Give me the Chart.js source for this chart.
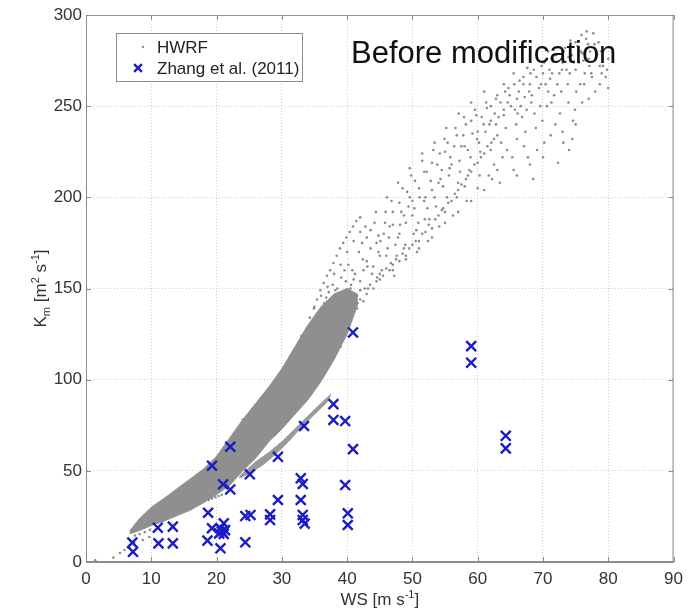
<!DOCTYPE html>
<html>
<head>
<meta charset="utf-8">
<script src="https://cdn.jsdelivr.net/npm/chart.js@4/dist/chart.umd.min.js"></script>
<style>
html, body { margin: 0; padding: 0; background: #fff; }
</style>
</head>
<body>
<canvas id="myChart" width="690" height="612"></canvas>
<script>
// axis limits / tick steps
const wsRange = [0, 90];
const kmRange = [0, 300];
const wsStep = 10;
const kmStep = 50;

// Zhang et al. (2011) observations
const zhangWs = [7.1, 7.2, 11.0, 11.1, 13.3, 13.3, 18.7, 18.6, 19.3, 19.3, 20.6, 20.6, 21.1, 20.4, 21.1, 20.8, 21.3,
  21.0, 22.1, 22.1, 24.4, 25.2, 24.4, 25.1, 28.2, 28.2, 29.4, 29.4, 32.9, 33.2, 32.9, 33.2, 33.2, 33.5, 33.4,
  37.9, 37.9, 39.7, 39.7, 40.1, 40.1, 40.9, 40.9, 59.0, 59.0, 64.3, 64.3];
const zhangKm = [10.6, 5.6, 18.8, 10.2, 19.4, 10.2, 27.0, 11.7, 52.8, 18.5, 7.5, 18.5, 21.2, 15.7, 15.4, 16.8, 17.5,
  42.6, 39.8, 63.2, 25.2, 25.8, 10.8, 48.1, 26.1, 23.0, 57.7, 34.0, 45.9, 42.8, 34.0, 25.8, 23.0, 21.0, 74.6,
  86.6, 77.9, 77.3, 42.2, 26.7, 20.3, 61.9, 125.9, 118.4, 109.3, 69.2, 62.3];

// HWRF: outline of the dense part of the cloud (ws, km)
const hwrfCore = [[6.7, 17], [8, 23], [10, 30], [12, 35], [15, 43], [18, 51], [20, 58], [22, 68], [24, 78], [26, 87],
  [28, 96], [30, 106], [32, 118], [34, 130], [36, 140], [38, 147], [40, 150], [41.5, 147],
  [41.5, 140], [40, 125], [38, 111], [36, 99], [34, 89], [32, 81], [30, 73], [28, 66], [26, 57], [24, 50], [22, 42],
  [20, 37], [18, 32.5], [16, 28.5], [14, 25.5], [12, 22.5], [10, 20], [8, 17], [6.7, 15.5]];
// thin strand under the core
const hwrfRibbon = [[23.5, 47], [26, 55], [28, 60], [30, 66], [32, 73], [34, 80], [36, 87], [37.5, 92],
  [37, 88], [35, 81], [33, 74], [31, 66], [29, 59], [27, 53], [25, 48.5], [23.5, 46]];

// HWRF: scattered points
const hwrfDots = [
  [1.4, 1], [4.2, 2.4], [5.2, 4.9], [5.9, 6.6], [6.4, 8], [7.4, 10.4], [8.7, 12], [9.7, 13.7],
  [7.5, 14.5], [8.2, 15.3], [9, 16.4], [9.8, 17.6], [18.8, 34], [19.3, 34.8], [19.8, 35.5], [20.3, 36.2], [20.8, 36.9],
  [25, 80], [27, 90], [29, 99], [31, 109], [33, 121], [35, 133], [37, 143],
  [29, 70], [31, 78], [33, 87], [35, 97], [37, 107], [39, 118],
  [28, 95], [30.5, 105], [31.5, 110], [34.5, 129], [35.5, 134], [33.5, 115], [36.5, 130], [38, 135], [39.5, 140], [26, 82],
  [24, 78], [25.5, 84], [27.5, 92], [29.5, 100], [30.2, 106], [32.5, 118], [33, 124],
  [36.5, 142], [37.2, 148], [37.8, 152], [38.5, 150], [39.1, 156], [39.6, 160], [40.2, 163], [38.9, 144], [40.6, 152],
  [41.2, 158], [41.8, 170], [42.3, 175], [41.5, 146], [42.7, 150], [43.1, 162], [43.6, 182], [44.2, 186], [44.8, 170],
  [45.3, 160], [45.9, 192], [46.4, 178], [46.8, 198], [47.2, 157], [47.6, 168], [48.1, 185], [48.5, 205], [48.9, 174],
  [49.4, 195], [49.8, 212], [50.2, 180], [50.7, 170], [51.1, 200], [51.5, 220], [51.9, 188], [52.4, 176], [52.8, 209],
  [53.2, 226], [53.6, 195], [54.1, 184], [54.5, 215], [54.9, 232], [55.3, 200], [55.8, 222], [56.2, 190], [56.6, 238],
  [57.0, 208], [57.5, 228], [57.9, 244], [58.3, 198], [58.7, 215], [59.2, 235], [59.6, 248], [60.0, 205], [60.4, 225],
  [60.9, 240], [61.3, 252], [61.7, 212], [62.1, 230], [62.6, 246], [63.0, 256], [63.4, 208], [63.8, 222], [64.3, 238],
  [64.7, 260], [65.1, 250], [65.5, 215], [66.0, 232], [66.4, 264], [66.8, 244], [67.2, 255], [67.7, 222], [68.1, 268],
  [68.5, 210], [68.9, 238], [69.4, 260], [69.8, 272], [70.2, 230], [70.6, 250], [71.1, 265], [71.5, 276], [71.9, 240],
  [72.3, 219], [72.8, 258], [73.2, 280], [73.6, 270], [74.0, 226], [74.5, 232], [74.9, 248], [75.3, 283], [75.7, 262],
  [76.2, 275], [76.6, 287], [77.0, 254], [77.4, 268], [77.9, 284], [78.3, 278], [78.7, 262], [79.2, 272], [79.6, 266], [80.0, 260],
  [39.5, 147], [40.5, 150], [41, 155], [42, 149], [42.5, 160], [43, 165], [43.8, 158], [44.5, 175], [45, 168], [45.6, 180],
  [46.2, 172], [47, 185], [47.8, 178], [48.3, 192], [49, 186], [49.6, 200], [50.3, 194], [51, 205], [51.8, 198], [52.2, 214],
  [53, 204], [53.8, 218], [54.3, 210], [55, 225], [55.6, 212], [56.4, 228], [57.2, 220], [57.8, 234], [58.5, 226], [59, 242],
  [59.9, 232], [60.6, 244], [61.2, 236], [62, 250], [62.8, 240], [63.5, 252], [64, 245], [64.9, 256], [65.7, 248], [66.3, 258],
  [67, 262], [67.5, 248], [68.3, 256], [69, 266], [69.6, 250], [70.4, 262], [71, 270], [71.7, 256], [72.5, 268], [73, 274],
  [73.8, 262], [74.4, 278], [75, 270], [75.8, 280], [76.4, 268], [77.2, 280], [77.7, 290], [78.5, 285], [76.9, 284], [74.2, 286],
  [72, 278], [70, 268], [68, 262], [66, 254], [64, 248], [62, 242], [60, 236], [58, 228], [56, 218], [54, 208], [52, 200],
  [50, 190], [48, 180], [46, 168], [44, 162], [42, 154],
  [45, 155], [47, 160], [49, 166], [51, 172], [53, 178], [55, 186], [57, 192], [59, 198], [61, 204], [63, 215], [66, 212],
  [68, 218], [70, 222], [73, 236], [75, 240], [76, 252], [78, 258], [79, 268], [80, 276], [62.5, 218], [58.2, 210], [56.8, 200],
  [54.7, 194], [52.6, 188], [50.6, 182], [48.7, 172], [46.7, 164], [44.6, 156], [43.2, 150], [41.6, 142], [40, 140], [39, 136],
  // left flank
  [33.8, 128], [34.3, 134], [34.9, 139], [35.4, 144], [35.9, 149], [36.4, 153], [36.9, 157], [37.4, 160], [37.9, 164],
  [38.4, 168], [38.9, 172], [39.4, 175], [39.9, 178], [40.4, 181], [40.9, 184], [41.4, 187], [42.0, 189], [35, 140], [36, 146],
  [37, 151], [38, 158], [39, 163], [40, 170], [41, 176], [42, 181], [43, 178], [36.8, 145], [38.2, 149], [39.8, 154], [40.8, 160],
  [42.4, 166], [43.6, 172], [44.8, 179], [45.8, 186], [47, 192], [48, 197], [49.2, 203], [50.4, 209], [51.8, 214], [53, 219],
  [54.2, 224], [55.4, 230], [56.8, 234], [58.2, 240], [59.8, 245], [61.4, 249], [62.8, 254], [64.2, 258], [65.6, 262], [67, 266],
  [68.6, 270], [70.2, 274], [71.8, 278], [73.4, 282], [75, 285], [76, 279], [77, 276],
  // denser streak
  [40.5, 136], [41, 141], [41.5, 139], [42, 144], [42.5, 143], [43, 147], [43.5, 152], [44, 150], [44.5, 154], [45, 158],
  [45.5, 157], [46, 161], [46.5, 160], [47, 163], [47.5, 166], [48, 165], [48.5, 169], [49, 168], [49.5, 172], [50, 174],
  [50.5, 176], [51, 176], [51.5, 180], [52, 181], [52.5, 185], [53, 183], [53.5, 188], [54, 190], [54.5, 193], [55, 192],
  [55.5, 197], [56, 198], [56.5, 202], [57, 204], [57.5, 207], [58, 206], [58.5, 212], [59, 214], [59.5, 218], [60, 219],
  [60.5, 222], [61, 224], [61.5, 228], [62, 226], [62.5, 232], [63, 234],
  // right side
  [60.3, 212], [62.2, 210], [64.5, 226], [65.9, 240], [67.3, 236], [68.7, 246], [69.9, 242], [71.3, 252], [72.6, 246],
  [73.9, 252], [75.1, 258], [76.3, 262], [77.5, 266], [78.7, 272], [79.8, 270], [74.6, 242], [73.1, 230], [71.2, 234],
  [69.1, 226], [67.1, 228], [65.3, 222], [63.6, 230], [66.6, 250], [68.2, 252], [70.8, 258], [72.2, 262], [74.1, 268],
  [75.5, 274], [77.1, 272], [78.9, 280], [76.7, 291], [75.9, 289], [73.9, 277], [70.8, 280], [69.3, 275], [67.6, 271],
  [65.5, 268], [64, 262],
  // middle
  [45.1, 176], [46.5, 184], [47.4, 174], [48.7, 190], [50, 198], [50.9, 186], [52.3, 194], [53.4, 200], [54.7, 206],
  [55.7, 216], [57.3, 214], [58.9, 222], [60.2, 230], [61.8, 240], [63.2, 244], [64.6, 252], [66.1, 246], [67.9, 258],
  [69.7, 262], [71.4, 268], [72.9, 270], [74.7, 274], [61, 258], [59, 252], [57.1, 246], [55.2, 238], [53.4, 230],
  [51.5, 224], [49.6, 216], [47.8, 208], [46.1, 200], [44.4, 192], [42.8, 184]
];

const fontFamily = '"Liberation Sans", Arial, sans-serif';
const toXY = pts => pts.map(p => ({x: p[0], y: p[1]}));

// frame, inward ticks, legend, note and axis titles
const decorations = {
  id: 'decorations',
  afterDraw(chart) {
    const ctx = chart.ctx;
    const a = chart.chartArea;
    const xs = chart.scales.x, ys = chart.scales.y;
    ctx.save();
    ctx.strokeStyle = '#8c8c8c';
    ctx.lineWidth = 1;
    ctx.strokeRect(a.left + 0.5, a.top + 0.5, a.right - a.left - 1, a.bottom - a.top - 1);
    ctx.beginPath();
    xs.ticks.forEach(t => {
      const px = Math.round(xs.getPixelForValue(t.value)) + 0.5;
      ctx.moveTo(px, a.bottom); ctx.lineTo(px, a.bottom - 5);
      ctx.moveTo(px, a.top); ctx.lineTo(px, a.top + 5);
    });
    ys.ticks.forEach(t => {
      const py = Math.round(ys.getPixelForValue(t.value)) + 0.5;
      ctx.moveTo(a.left, py); ctx.lineTo(a.left + 5, py);
      ctx.moveTo(a.right, py); ctx.lineTo(a.right - 5, py);
    });
    ctx.stroke();

    // legend
    const lx = 116, ly = 33, lw = 186, lh = 48;
    ctx.fillStyle = '#fff';
    ctx.fillRect(lx, ly, lw, lh);
    ctx.strokeStyle = '#8c8c8c';
    ctx.strokeRect(lx + 0.5, ly + 0.5, lw, lh);
    const dsZhang = chart.data.datasets[0], dsDots = chart.data.datasets[1];
    ctx.font = '17px ' + fontFamily;
    ctx.fillStyle = '#222';
    ctx.textBaseline = 'middle';
    ctx.textAlign = 'left';
    ctx.fillText(dsDots.label, 157, 48);
    ctx.fillText(dsZhang.label, 157, 69);
    ctx.fillStyle = dsDots.backgroundColor;
    ctx.beginPath(); ctx.arc(143, 47, 1.2, 0, Math.PI * 2); ctx.fill();
    ctx.strokeStyle = dsZhang.borderColor;
    ctx.lineWidth = 2.4;
    Chart.helpers.drawPoint(ctx, {pointStyle: 'crossRot', radius: 5.5, borderWidth: 2.4}, 138, 68);

    // note
    ctx.font = '31px ' + fontFamily;
    ctx.fillStyle = '#111';
    ctx.textBaseline = 'alphabetic';
    ctx.fillText('Before modification', 351, 63);

    // axis titles with sub/superscripts
    const big = '17px ' + fontFamily, small = '11px ' + fontFamily;
    const drawRich = (parts, cx, baseY) => {
      let w = 0;
      parts.forEach(p => { ctx.font = p[1] ? small : big; w += ctx.measureText(p[0]).width; });
      let x = cx - w / 2;
      parts.forEach(p => {
        ctx.font = p[1] ? small : big;
        ctx.fillText(p[0], x, baseY + (p[1] || 0));
        x += ctx.measureText(p[0]).width;
      });
    };
    ctx.fillStyle = '#333';
    drawRich([['WS [m s'], ['-1', -7], [']']], (a.left + a.right) / 2, 605);
    ctx.translate(46, (a.top + a.bottom) / 2);
    ctx.rotate(-Math.PI / 2);
    drawRich([['K'], ['m', 4], [' [m'], ['2', -7], [' s'], ['-1', -7], [']']], 0, 0);
    ctx.restore();
  }
};

const ctx = document.getElementById('myChart').getContext('2d');
const myChart = new Chart(ctx, {
  type: 'scatter',
  data: {
    datasets: [{
      label: 'Zhang et al. (2011)',
      data: zhangWs.map((x, i) => ({x: x, y: zhangKm[i]})),
      pointStyle: 'crossRot',
      pointRadius: 7,
      borderColor: '#1c1cc4',
      backgroundColor: '#1c1cc4',
      pointBorderWidth: 2.4,
      order: 0
    }, {
      label: 'HWRF',
      data: toXY(hwrfDots),
      pointRadius: 1.3,
      pointBorderWidth: 0,
      backgroundColor: '#8c8c8c',
      borderColor: '#8c8c8c',
      order: 1
    }, {
      label: 'HWRF',
      data: toXY(hwrfRibbon),
      showLine: true,
      fill: 'shape',
      pointRadius: 0,
      borderWidth: 1,
      borderColor: '#999',
      backgroundColor: '#999',
      order: 2
    }, {
      label: 'HWRF',
      data: toXY(hwrfCore),
      showLine: true,
      fill: 'shape',
      pointRadius: 0,
      borderWidth: 1,
      borderColor: '#8f8f8f',
      backgroundColor: '#8f8f8f',
      order: 3
    }]
  },
  options: {
    responsive: false,
    animation: false,
    layout: { padding: { left: 0, right: 12, top: 15, bottom: 0 } },
    plugins: {
      legend: { display: false },
      tooltip: { enabled: false }
    },
    scales: {
      x: {
        type: 'linear',
        min: wsRange[0], max: wsRange[1],
        ticks: { stepSize: wsStep, padding: 7, color: '#333', font: { family: fontFamily, size: 17 } },
        grid: { color: '#cfcfcf', drawTicks: false },
        border: { display: true, color: '#8c8c8c', dash: [1, 2] },
        afterFit(scale) { scale.height = 50; }
      },
      y: {
        type: 'linear',
        min: kmRange[0], max: kmRange[1],
        ticks: { stepSize: kmStep, padding: 4, color: '#333', font: { family: fontFamily, size: 17 } },
        grid: { color: '#cfcfcf', drawTicks: false },
        border: { display: true, color: '#8c8c8c', dash: [1, 2] },
        afterFit(scale) { scale.width = 86; }
      }
    }
  },
  plugins: [decorations]
});
</script>
</body>
</html>
